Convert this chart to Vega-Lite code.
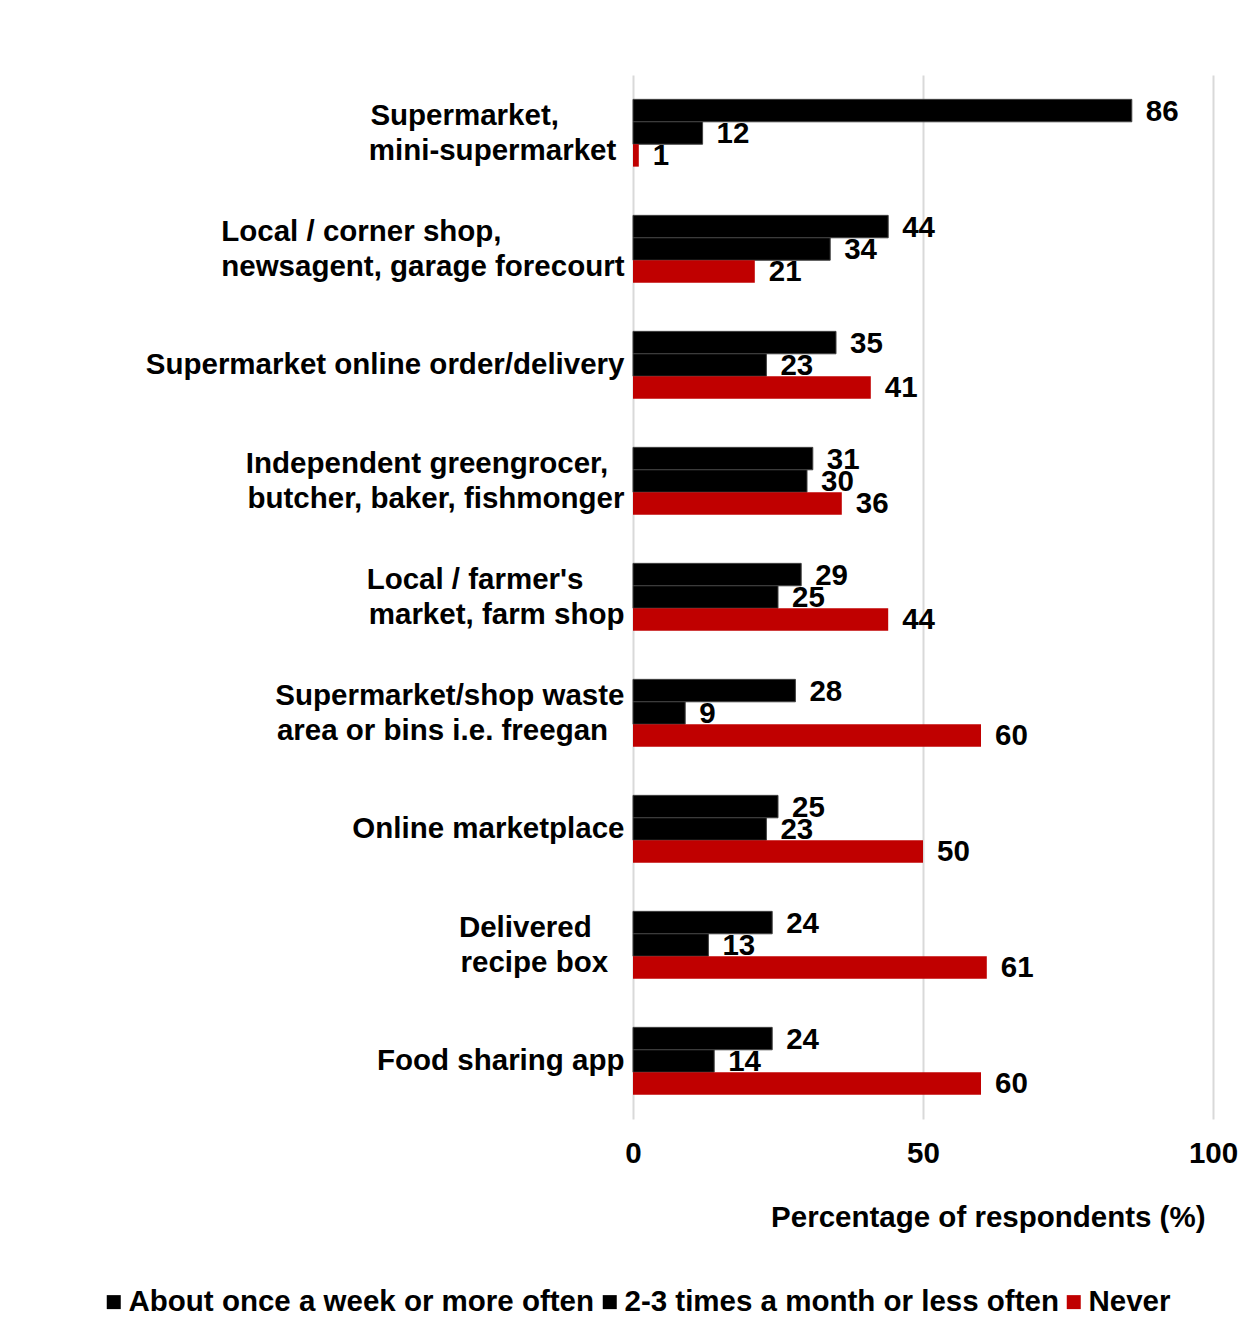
{
  "$schema": "https://vega.github.io/schema/vega-lite/v6.json",
  "autosize": {"type": "none"},
  "width": 580,
  "height": 1044,
  "padding": {"left": 633, "top": 75, "right": 31, "bottom": 214},
  "background": "white",
  "config": {
    "view": {"stroke": null},
    "font": "Liberation Sans",
    "axis": {"labelFont": "Liberation Sans", "titleFont": "Liberation Sans", "labelColor": "black", "titleColor": "black"},
    "legend": {"labelFont": "Liberation Sans"}
  },
  "data": {
    "values": [
      {"place": "Supermarket,\u00a0\u00a0\u00a0\u00a0\u00a0\u00a0\u00a0\u00a0\u200b|mini-supermarket\u00a0\u200b", "series": "About once a week or more often", "value": 86},
      {"place": "Supermarket,\u00a0\u00a0\u00a0\u00a0\u00a0\u00a0\u00a0\u00a0\u200b|mini-supermarket\u00a0\u200b", "series": "2-3 times a month or less often", "value": 12},
      {"place": "Supermarket,\u00a0\u00a0\u00a0\u00a0\u00a0\u00a0\u00a0\u00a0\u200b|mini-supermarket\u00a0\u200b", "series": "Never", "value": 1},
      {"place": "Local / corner shop,\u00a0\u00a0\u00a0\u00a0\u00a0\u00a0\u00a0\u00a0\u00a0\u00a0\u00a0\u00a0\u00a0\u00a0\u00a0\u200b|newsagent, garage forecourt", "series": "About once a week or more often", "value": 44},
      {"place": "Local / corner shop,\u00a0\u00a0\u00a0\u00a0\u00a0\u00a0\u00a0\u00a0\u00a0\u00a0\u00a0\u00a0\u00a0\u00a0\u00a0\u200b|newsagent, garage forecourt", "series": "2-3 times a month or less often", "value": 34},
      {"place": "Local / corner shop,\u00a0\u00a0\u00a0\u00a0\u00a0\u00a0\u00a0\u00a0\u00a0\u00a0\u00a0\u00a0\u00a0\u00a0\u00a0\u200b|newsagent, garage forecourt", "series": "Never", "value": 21},
      {"place": "Supermarket online order/delivery", "series": "About once a week or more often", "value": 35},
      {"place": "Supermarket online order/delivery", "series": "2-3 times a month or less often", "value": 23},
      {"place": "Supermarket online order/delivery", "series": "Never", "value": 41},
      {"place": "Independent greengrocer,\u00a0\u00a0\u200b|butcher, baker, fishmonger", "series": "About once a week or more often", "value": 31},
      {"place": "Independent greengrocer,\u00a0\u00a0\u200b|butcher, baker, fishmonger", "series": "2-3 times a month or less often", "value": 30},
      {"place": "Independent greengrocer,\u00a0\u00a0\u200b|butcher, baker, fishmonger", "series": "Never", "value": 36},
      {"place": "Local / farmer's\u00a0\u00a0\u00a0\u00a0\u00a0\u200b|market, farm shop", "series": "About once a week or more often", "value": 29},
      {"place": "Local / farmer's\u00a0\u00a0\u00a0\u00a0\u00a0\u200b|market, farm shop", "series": "2-3 times a month or less often", "value": 25},
      {"place": "Local / farmer's\u00a0\u00a0\u00a0\u00a0\u00a0\u200b|market, farm shop", "series": "Never", "value": 44},
      {"place": "Supermarket/shop waste|area or bins i.e. freegan\u00a0\u00a0\u200b", "series": "About once a week or more often", "value": 28},
      {"place": "Supermarket/shop waste|area or bins i.e. freegan\u00a0\u00a0\u200b", "series": "2-3 times a month or less often", "value": 9},
      {"place": "Supermarket/shop waste|area or bins i.e. freegan\u00a0\u00a0\u200b", "series": "Never", "value": 60},
      {"place": "Online marketplace", "series": "About once a week or more often", "value": 25},
      {"place": "Online marketplace", "series": "2-3 times a month or less often", "value": 23},
      {"place": "Online marketplace", "series": "Never", "value": 50},
      {"place": "Delivered\u00a0\u00a0\u00a0\u00a0\u200b|recipe box\u00a0\u00a0\u200b", "series": "About once a week or more often", "value": 24},
      {"place": "Delivered\u00a0\u00a0\u00a0\u00a0\u200b|recipe box\u00a0\u00a0\u200b", "series": "2-3 times a month or less often", "value": 13},
      {"place": "Delivered\u00a0\u00a0\u00a0\u00a0\u200b|recipe box\u00a0\u00a0\u200b", "series": "Never", "value": 61},
      {"place": "Food sharing app", "series": "About once a week or more often", "value": 24},
      {"place": "Food sharing app", "series": "2-3 times a month or less often", "value": 14},
      {"place": "Food sharing app", "series": "Never", "value": 60}
    ]
  },
  "encoding": {
    "y": {
      "field": "place",
      "type": "nominal",
      "sort": null,
      "scale": {"paddingInner": 0.42, "paddingOuter": 0.21},
      "axis": {
        "title": null,
        "domain": false,
        "ticks": false,
        "labelExpr": "split(datum.label, '|')",
        "labelFontSize": 29.5,
        "labelFontWeight": "bold",
        "labelLineHeight": 35,
        "labelPadding": 9,
        "labelLimit": 700,
        "labelAlign": "right",
        "labelBaseline": "middle",
        "labelOffset": {"condition": {"test": "indexof(datum.value, '|') >= 0", "value": -17.5}, "value": 0}
      }
    },
    "yOffset": {
      "field": "series",
      "type": "nominal",
      "sort": ["About once a week or more often", "2-3 times a month or less often", "Never"],
      "scale": {"paddingInner": 0, "paddingOuter": 0}
    },
    "x": {
      "field": "value",
      "type": "quantitative",
      "scale": {"domain": [0, 100], "nice": false},
      "axis": {
        "values": [0, 50, 100],
        "title": "Percentage of respondents (%)",
        "titleFontSize": 29.5,
        "titleFontWeight": "bold",
        "titleX": 572,
        "titleY": 98,
        "titleAlign": "right",
        "titleBaseline": "middle",
        "domain": false,
        "ticks": false,
        "grid": true,
        "gridColor": "#d9d9d9",
        "gridWidth": 2,
        "labelFontSize": 29.5,
        "labelFontWeight": "bold",
        "labelPadding": 20,
        "labelFlush": false
      }
    }
  },
  "layer": [
    {
      "mark": {"type": "bar"},
      "encoding": {
        "color": {
          "field": "series",
          "type": "nominal",
          "sort": ["About once a week or more often", "2-3 times a month or less often", "Never"],
          "scale": {
            "domain": ["About once a week or more often", "2-3 times a month or less often", "Never"],
            "range": ["#000000", "#000000", "#C00000"]
          },
          "legend": {
            "title": null,
            "orient": "none",
            "direction": "horizontal",
            "legendX": -534,
            "legendY": 1212,
            "padding": 0,
            "symbolType": "square",
            "symbolSize": 196,
            "symbolStrokeWidth": 0,
            "labelFontSize": 29.5,
            "labelFontWeight": "bold",
            "labelColor": "black",
            "labelLimit": 700,
            "labelOffset": 0,
            "columnPadding": -3
          }
        },
        "stroke": {
          "condition": {"test": "datum.series !== 'Never'", "value": "#404040"},
          "value": null
        },
        "strokeWidth": {"value": 1}
      }
    },
    {
      "mark": {"type": "text", "align": "left", "baseline": "middle", "dx": 14, "dy": 1, "fontSize": 29.5, "fontWeight": "bold", "color": "black"},
      "encoding": {
        "text": {"field": "value", "type": "quantitative"}
      }
    }
  ]
}
